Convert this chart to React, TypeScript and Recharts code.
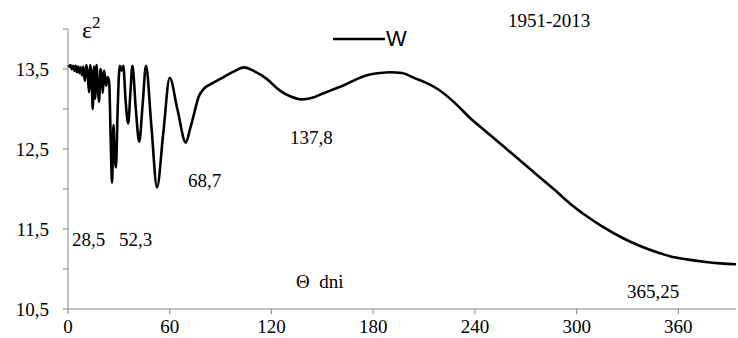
import { LineChart, Line, XAxis, YAxis } from "recharts";

// Θ, days
const days = [
  0, 0.8, 1.5, 2.2, 3, 3.8, 4.5, 5.3, 6, 6.8, 7.5, 8.3, 9, 10, 10.8, 11.6, 12.4, 13.2, 14,
  14.6, 15.3, 16, 16.8, 17.6, 18.3, 19.2, 20, 20.5, 21.3, 22.5, 23.4, 24.3, 25.2, 26, 26.8,
  27.4, 28.3, 29.3, 30.5, 31.6, 32.6, 34, 35.5, 36.8, 38, 40, 42, 44, 46, 49.2, 52.5, 56.2,
  60, 64.5, 69.5, 72, 74, 77, 80, 85, 91, 97, 104, 110, 117, 125, 131, 138, 144, 150, 157,
  164, 171, 178, 184, 190, 197, 205, 211, 218, 228, 237, 247, 257, 267, 277, 287, 296, 306,
  316, 326, 336, 346, 355, 365, 375, 385, 394,
];

// ε², W series
const epsW = [
  13.55, 13.53, 13.55, 13.5, 13.54, 13.48, 13.54, 13.46, 13.53, 13.45, 13.52, 13.42, 13.53,
  13.35, 13.55, 13.45, 13.21, 13.55, 13.38, 13.0, 13.53, 13.13, 13.55, 13.26, 13.09, 13.5,
  13.4, 13.2, 13.48, 13.29, 13.4, 13.33, 12.6, 12.08, 12.8, 12.5, 12.27, 13.0, 13.54, 13.48,
  13.54, 13.1, 12.82, 13.2, 13.54, 13.0, 12.59, 13.05, 13.54, 12.78, 12.02, 12.7, 13.39, 13.0,
  12.58, 12.75, 12.91, 13.15, 13.25, 13.32, 13.39, 13.46, 13.52, 13.47, 13.38, 13.23, 13.16,
  13.12, 13.14, 13.19, 13.25, 13.31, 13.38, 13.43, 13.45, 13.46, 13.45, 13.38, 13.33, 13.25,
  13.08, 12.89, 12.71, 12.53, 12.35, 12.17, 11.99, 11.82, 11.66, 11.52, 11.4, 11.3, 11.22,
  11.16, 11.12, 11.09, 11.07, 11.06,
];

const xTicks = [0, 60, 120, 180, 240, 300, 360];
const yTicks = [10.5, 11, 11.5, 12, 12.5, 13, 13.5, 14];
const yLabelled = [10.5, 11.5, 12.5, 13.5];

const data = days.map((d, i) => ({ day: d, w: epsW[i] }));

const serif = '"Liberation Serif", "DejaVu Serif", serif';
const axisColor = "#868686";

export default function App() {
  return (
    <div
      style={{
        position: "absolute",
        left: 0,
        top: 0,
        width: 738,
        height: 338,
        background: "#fff",
        fontFamily: serif,
      }}
    >
      <LineChart width={738} height={338} data={data} margin={{ top: 29, right: 2, left: 0, bottom: 0 }}>
        <XAxis
          dataKey="day"
          type="number"
          domain={[0, 394]}
          ticks={xTicks}
          height={29}
          tickSize={5}
          tickMargin={6}
          stroke={axisColor}
          tick={{ fontSize: 19, fill: "#000", fontFamily: serif }}
        />
        <YAxis
          type="number"
          domain={[10.5, 14]}
          ticks={yTicks}
          width={68}
          tickSize={5}
          tickMargin={14}
          stroke={axisColor}
          tick={{ fontSize: 19, fill: "#000", fontFamily: serif }}
          tickFormatter={(v: number) => (yLabelled.includes(v) ? String(v).replace(".", ",") : "")}
        />
        <Line
          type="monotone"
          dataKey="w"
          stroke="#000"
          strokeWidth={2.6}
          dot={false}
          isAnimationActive={false}
        />
      </LineChart>
      <svg
        width={738}
        height={338}
        style={{ position: "absolute", left: 0, top: 0, pointerEvents: "none" }}
      >
        <text x={82} y={38} fontSize={24} fontFamily={serif}>
          ε<tspan dy={-10} fontSize={17}>2</tspan>
        </text>
        <line x1={333} y1={39} x2={385} y2={39} stroke="#000" strokeWidth={2.6} />
        <text x={386} y={46} fontSize={22} fontFamily='"Liberation Sans", Arial, sans-serif'>
          W
        </text>
        <g fontSize={19} fontFamily={serif}>
          <text x={508} y={27}>1951-2013</text>
          <text x={72} y={246}>28,5</text>
          <text x={119} y={246}>52,3</text>
          <text x={188} y={187}>68,7</text>
          <text x={290} y={144}>137,8</text>
          <text x={627} y={298}>365,25</text>
          <text x={296} y={288}>Θ&nbsp;&nbsp;dni</text>
        </g>
      </svg>
    </div>
  );
}
